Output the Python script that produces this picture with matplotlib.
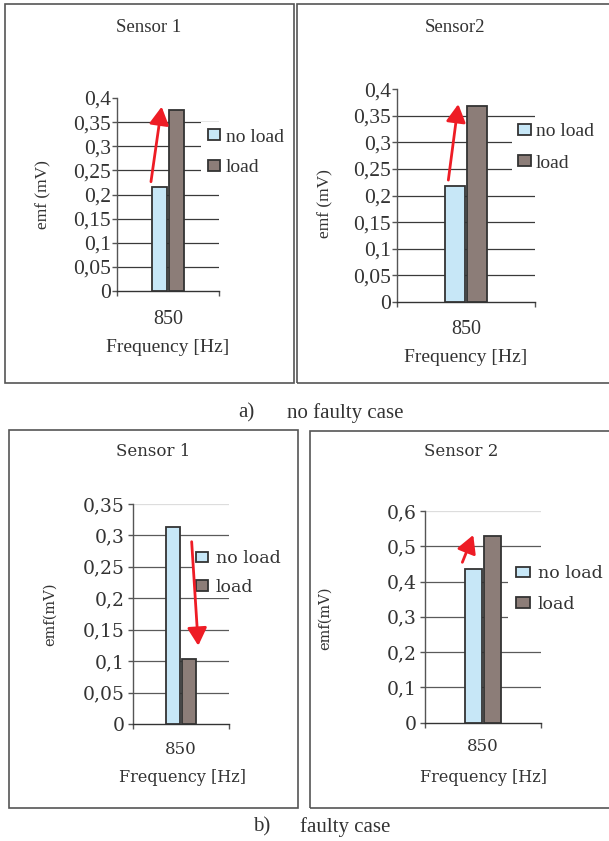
import matplotlib
matplotlib.use("Agg")
import matplotlib.pyplot as plt
from matplotlib.patches import Rectangle, Patch
from matplotlib.ticker import FuncFormatter, MultipleLocator

# ---------------- data ----------------
categories = ["850"]
series_names = ["no load", "load"]
titles = ["Sensor 1", "Sensor2", "Sensor 1", "Sensor 2"]
no_load = [0.216, 0.217, 0.313, 0.436]
load = [0.376, 0.368, 0.104, 0.530]
y_max = [0.4, 0.4, 0.35, 0.6]
y_step = [0.05, 0.05, 0.05, 0.1]
ylabels = ["emf (mV)", "emf (mV)", "emf(mV)", "emf(mV)"]
xlabel = "Frequency [Hz]"
captions = [("a)", "no faulty case"), ("b)", "faulty case")]
# red arrow annotations (data coords: x_tail, y_tail, x_head, y_head)
arrows = [(-0.167, 0.2265, -0.062, 0.382),
          (-0.128, 0.229, -0.056, 0.372),
          (0.111, 0.290, 0.180, 0.1246),
          (-0.178, 0.4546, -0.084, 0.532)]

# ---------------- style ----------------
W, H = 609, 841
C_NOLOAD = "#C7E7F7"
C_LOAD = "#8C7D78"
C_EDGE = "#333333"
C_TEXT = "#333333"
C_RED = "#EE1C25"

def fx(x):
    return x / W

def fy(y):
    return 1 - y / H

fig = plt.figure(figsize=(W / 100, H / 100), dpi=100)

# frames (pixel boxes: x0, y0, x1, y1)
frames = [(4.5, 4.5, 294.3, 382.5), (296.5, 4.5, 611, 382.5),
          (9, 430, 297.7, 808), (309.5, 430.5, 611, 808)]
for (x0, y0, x1, y1) in frames:
    fig.add_artist(Rectangle((fx(x0), fy(y1)), fx(x1) - fx(x0), fy(y0) - fy(y1),
                             transform=fig.transFigure, fill=False,
                             edgecolor="#555555", lw=1.2))

# axes layout in pixels: left, right, top(ymax), bottom(0)
ax_px = [(117, 219, 98, 291), (397, 535, 89.3, 301.7),
         (133, 229, 504, 724), (425, 541, 511, 722.7)]

# per-panel text layout
fonts = ["Liberation Serif", "Liberation Serif", "DejaVu Serif", "DejaVu Serif"]
fs_tick = [15.5, 15.5, 13.5, 13.5]
fs_title = [13.5, 13.5, 12, 12]
fs_leg = [14, 14, 12.5, 12.5]
fs_xlab = [14, 14, 11.5, 11.5]
fs_ylab = [12.5, 12.5, 10.5, 10.5]
title_pos = [(149, 28), (455, 28), (153, 451), (461, 451)]
ylab_pos = [(43, 195), (325, 204), (50, 614), (325, 618)]
xlab_pos = [(168, 348), (466, 358), (182, 777), (484, 777)]
cat_pad = [14.0, 13.5, 12.0, 11.0]
ytick_pad = [1.0, 1.0, 2.5, 2.5]
leg_anchor = [(201, 152.5), (512, 147.5), (194, 573), (507.7, 589)]
leg_borderpad = [0.36, 0.3, 0.1, 0.5]
leg_hlen = [0.62, 0.67, 0.72, 0.76]
leg_textpad = [0.3, 0.25, 0.44, 0.46]
leg_spacing = [0.72, 0.72, 0.67, 0.79]
grid_top_color = [None, None, "#dddddd", "#dddddd"]
grid_color = ["#3a3a3a", "#3a3a3a", "#5a5a5a", "#5a5a5a"]

fmt = FuncFormatter(lambda v, p: ("%g" % round(v, 4)).replace(".", ","))

for i in range(4):
    l, r, t, b = ax_px[i]
    ax = fig.add_axes([fx(l), fy(b), fx(r) - fx(l), fy(t) - fy(b)])
    ax.set_xlim(-0.5, 0.5)
    ax.set_ylim(0, y_max[i])
    font = fonts[i]

    # gridlines
    n = int(round(y_max[i] / y_step[i]))
    for k in range(1, n + 1):
        v = k * y_step[i]
        if k == n:
            if grid_top_color[i] is None:
                continue
            c = grid_top_color[i]
        else:
            c = grid_color[i]
        ax.axhline(v, color=c, lw=0.9, zorder=1)

    w = 0.145
    ax.bar([-0.08], [no_load[i]], width=w, color=C_NOLOAD, edgecolor=C_EDGE,
           lw=1.3, zorder=3, label=series_names[0])
    ax.bar([0.08], [load[i]], width=w, color=C_LOAD, edgecolor=C_EDGE,
           lw=1.3, zorder=3, label=series_names[1])

    xt, yt, xh, yh = arrows[i]
    ax.annotate("", xy=(xh, yh), xytext=(xt, yt),
                arrowprops=dict(arrowstyle="-|>,head_length=0.6,head_width=0.33",
                                color=C_RED, lw=2.0, mutation_scale=18,
                                shrinkA=0, shrinkB=0), zorder=6, annotation_clip=False)

    for s in ["top", "right"]:
        ax.spines[s].set_visible(False)
    ax.spines["left"].set_color("#555555")
    ax.spines["bottom"].set_color("#333333")
    ax.spines["left"].set_linewidth(1.0)
    ax.spines["bottom"].set_linewidth(1.0)
    ax.patch.set_alpha(0)

    ax.yaxis.set_major_locator(MultipleLocator(y_step[i]))
    ax.yaxis.set_major_formatter(fmt)
    ax.tick_params(axis="y", direction="out", length=3.5, width=1.0, color="#555555",
                   pad=ytick_pad[i], labelsize=fs_tick[i], labelcolor=C_TEXT)
    for lab in ax.get_yticklabels():
        lab.set_fontfamily(font)

    ax.set_xticks([-0.5, 0.5])
    ax.set_xticklabels([])
    ax.tick_params(axis="x", which="major", direction="out", length=3.5, width=1.0,
                   color="#555555")
    ax.set_xticks([0], labels=categories, minor=True)
    ax.tick_params(axis="x", which="minor", length=0, pad=cat_pad[i],
                   labelsize=fs_xlab[i] + 0.5, labelcolor=C_TEXT)
    for lab in ax.get_xticklabels(minor=True):
        lab.set_fontfamily(font)

    # texts
    fig.text(fx(title_pos[i][0]), fy(title_pos[i][1]), titles[i], ha="center",
             va="center", fontsize=fs_title[i], family=font, color=C_TEXT)
    fig.text(fx(ylab_pos[i][0]), fy(ylab_pos[i][1]), ylabels[i], ha="center",
             va="center", rotation=90, fontsize=fs_ylab[i], family=font, color=C_TEXT)
    fig.text(fx(xlab_pos[i][0]), fy(xlab_pos[i][1]), xlabel, ha="center",
             va="center", fontsize=fs_xlab[i], family=font, color=C_TEXT)

    handles = [Patch(facecolor=C_NOLOAD, edgecolor=C_EDGE, lw=1.3),
               Patch(facecolor=C_LOAD, edgecolor=C_EDGE, lw=1.3)]
    leg = ax.legend(handles, series_names, loc="center left",
                    bbox_to_anchor=(fx(leg_anchor[i][0]), fy(leg_anchor[i][1])),
                    bbox_transform=fig.transFigure, frameon=True, fancybox=False,
                    facecolor="white", edgecolor="none", framealpha=1,
                    borderpad=leg_borderpad[i], borderaxespad=0,
                    handlelength=leg_hlen[i], handleheight=0.55,
                    handletextpad=leg_textpad[i], labelspacing=leg_spacing[i],
                    prop={"family": font, "size": fs_leg[i]})
    for txt in leg.get_texts():
        txt.set_color(C_TEXT)
    leg.set_zorder(5)

# captions
cap_pos = [((238, 413), (287, 413)), ((253, 827), (300, 827))]
for (lbl, txt), ((x1, y1), (x2, y2)) in zip(captions, cap_pos):
    fig.text(fx(x1), fy(y1), lbl, ha="left", va="center", fontsize=15,
             family="Liberation Serif", color=C_TEXT)
    fig.text(fx(x2), fy(y2), txt, ha="left", va="center", fontsize=15,
             family="Liberation Serif", color=C_TEXT)

fig.savefig("out.png", dpi=100)
